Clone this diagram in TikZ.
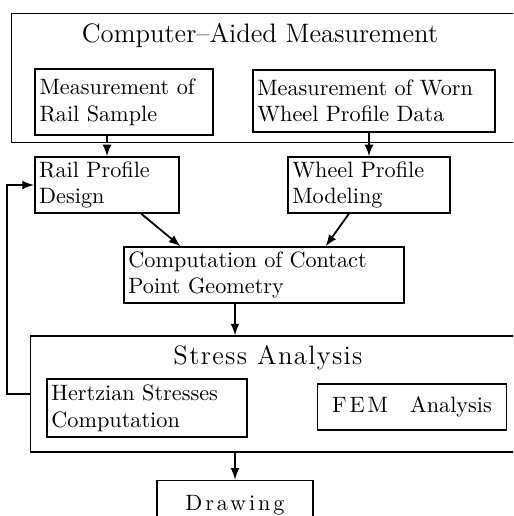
\documentclass[tikz,border=0pt]{standalone}
\usepackage{fontspec}
\newfontfamily\lsmall[LetterSpace=5]{Latin Modern Roman}
\newfontfamily\lwide[LetterSpace=13]{Latin Modern Roman}
\usepackage{tikz}
\begin{document}
\begin{tikzpicture}[x=0.45pt, y=-0.45pt, >=latex,
    box/.style={draw, thick, align=left, inner sep=2pt}]
    \useasboundingbox (0,0) rectangle (513,516);
    \clip (0,0) rectangle (513,516);
    \node[box, minimum width=229pt, minimum height=58pt] (cam) at (266,78) {};
    \node[font=\large] (camt) at (260,36) {Computer--Aided Measurement};
    \node[box, minimum width=220pt, minimum height=52pt] (sa) at (275,394) {};
    \node[font=\large\lsmall] (sat) at (268,358) {Stress Analysis};
    \node[box, text width=76pt, minimum height=30pt] (mrs) at (124,102) {Measurement of\\Rail Sample};
    \node[box, text width=105pt, minimum height=28pt] (mww) at (374,101) {Measurement of Worn\\Wheel Profile Data};
    \node[box, text width=61pt, minimum height=25pt] (rpd) at (107,185) {Rail Profile\\Design};
    \node[box, text width=69pt, minimum height=25pt] (wpm) at (369,185) {Wheel Profile\\Modeling};
    \node[box, text width=122pt, minimum height=25pt] (cpg) at (264,275) {Computation of Contact\\Point Geometry};
    \node[box, text width=86pt, minimum height=26pt] (hsc) at (147,408) {Hertzian Stresses\\Computation};
    \node[box, align=center, text width=81pt, minimum height=21pt] (fem) at (412,407) {{\lwide FEM}\quad Analysis};
    \node[box, align=center, text width=66pt, minimum height=22pt, font=\lwide] (drw) at (235,505) {Drawing};
    \draw[->, thick, dash pattern=on 2.5pt off 2pt](rpd.north |- mrs.south)--(rpd.north);
    \draw[->, thick](wpm.north |- mww.south)--(wpm.north);
    \draw[->, thick](rpd.-40)--(cpg.161);
    \draw[->, thick](wpm.235)--(cpg.25);
    \draw[->, thick](drw.north |- cpg.south)--(drw.north |- sa.north);
    \draw[->, thick](drw.north |- sa.south)--(drw.north);
    \draw[->, thick](sa.west)--++(-23,0)|-(rpd.west);
\end{tikzpicture}
\end{document}
